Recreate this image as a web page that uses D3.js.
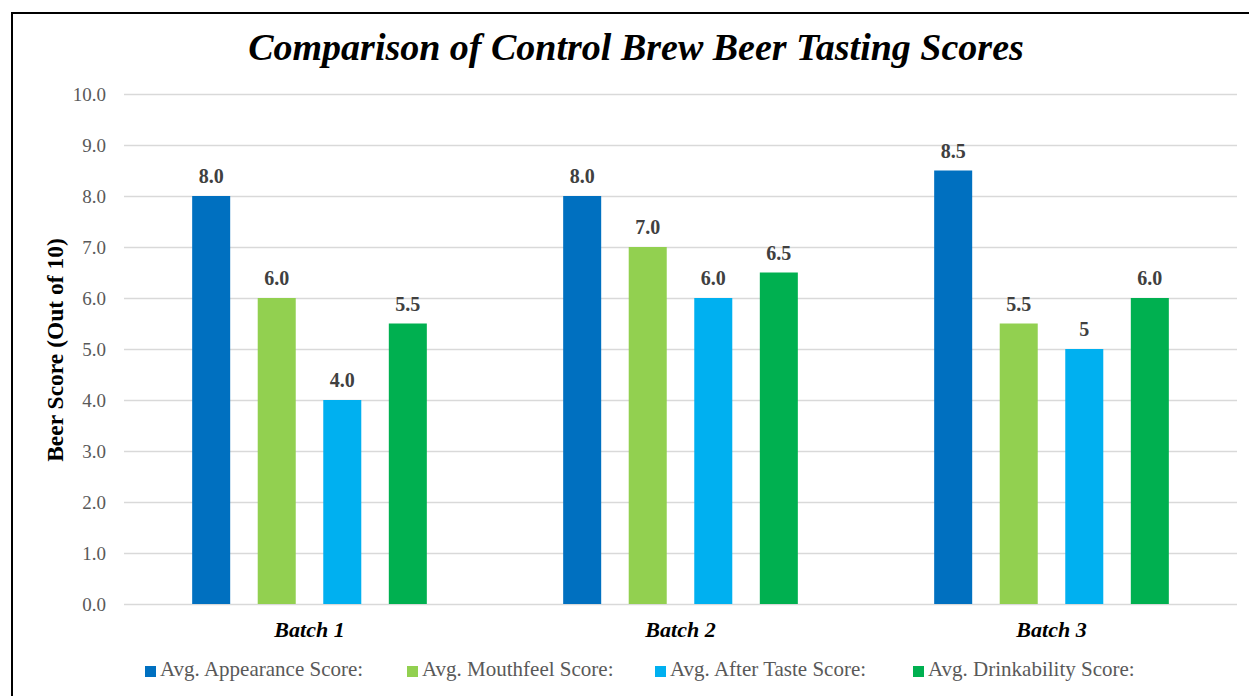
<!DOCTYPE html>
<html>
<head>
<meta charset="utf-8">
<script src="https://cdn.jsdelivr.net/npm/d3@7"></script>
<style>
  body { margin: 0; background: #fff; }
  svg { display: block; }
</style>
</head>
<body>
<div class="canvas"></div>
<script>
// chart data
const batches = ['Batch 1', 'Batch 2', 'Batch 3'];
const seriesNames = ['Avg. Appearance Score:', 'Avg. Mouthfeel Score:', 'Avg. After Taste Score:', 'Avg. Drinkability Score:'];
const appearance = [8.0, 8.0, 8.5];
const mouthfeel = [6.0, 7.0, 5.5];
const afterTaste = [4.0, 6.0, 5.0];
const drinkability = [5.5, 6.5, 6.0];
// labels as they appear on the chart (one says "5" not "5.0")
const appearanceLabels = ['8.0', '8.0', '8.5'];
const mouthfeelLabels = ['6.0', '7.0', '5.5'];
const afterTasteLabels = ['4.0', '6.0', '5'];
const drinkabilityLabels = ['5.5', '6.5', '6.0'];
const yTicks = [0, 1, 2, 3, 4, 5, 6, 7, 8, 9, 10];

const colors = d3.scaleOrdinal()
    .domain(seriesNames)
    .range(['#0070C0', '#92D050', '#00B0F0', '#00B050']);

const width = 1249, height = 696;
const margin = {top: 94, right: 12, bottom: 92, left: 124};
const serif = 'Liberation Serif, Times New Roman, serif';

const svg = d3.select('.canvas')
    .append('svg')
    .attr('width', width)
    .attr('height', height);

// outer frame
svg.append('rect')
    .attr('x', 12).attr('y', 13)
    .attr('width', width + 10).attr('height', height + 10)
    .attr('fill', 'none')
    .attr('stroke', '#000')
    .attr('stroke-width', 2);

// title
svg.append('text')
    .attr('x', 636).attr('y', 60)
    .attr('text-anchor', 'middle')
    .attr('font-family', serif)
    .attr('font-weight', 'bold')
    .attr('font-style', 'italic')
    .attr('font-size', 38)
    .attr('fill', '#000')
    .text('Comparison of Control Brew Beer Tasting Scores');

const graphWidth = width - margin.left - margin.right;
const graphHeight = height - margin.top - margin.bottom;

const graph = svg.append('g')
    .attr('transform', `translate(${margin.left}, ${margin.top})`);

// scales
const y = d3.scaleLinear()
    .domain([0, 10])
    .range([graphHeight, 0]);

const x0 = d3.scaleBand()
    .domain(batches)
    .range([0, graphWidth])
    .padding(0);

const x1 = d3.scaleBand()
    .domain(seriesNames)
    .range([0, x0.bandwidth()])
    .paddingInner(0.42)
    .paddingOuter(1.04);

// gridlines + y axis
const yAxis = d3.axisLeft(y)
    .tickValues(yTicks)
    .tickSize(-graphWidth)
    .tickPadding(18)
    .tickFormat(d3.format('.1f'));

const yAxisGroup = graph.append('g').call(yAxis);
yAxisGroup.select('.domain').remove();
yAxisGroup.selectAll('line')
    .attr('stroke', '#d9d9d9')
    .attr('stroke-width', 1.3);
yAxisGroup.selectAll('text')
    .attr('font-family', serif)
    .attr('font-size', 19)
    .attr('fill', '#595959');

// x axis labels
const xAxis = d3.axisBottom(x0).tickSize(0).tickPadding(17);
const xAxisGroup = graph.append('g')
    .attr('transform', `translate(0, ${graphHeight})`)
    .call(xAxis);
xAxisGroup.select('.domain').remove();
xAxisGroup.selectAll('text')
    .attr('font-family', serif)
    .attr('font-weight', 'bold')
    .attr('font-style', 'italic')
    .attr('font-size', 22)
    .attr('fill', '#000');

// y axis title
svg.append('text')
    .attr('transform', 'translate(63, 350) rotate(-90)')
    .attr('text-anchor', 'middle')
    .attr('font-family', serif)
    .attr('font-weight', 'bold')
    .attr('font-size', 23.5)
    .attr('fill', '#000')
    .text('Beer Score (Out of 10)');

// build rows for bars
const values = [appearance, mouthfeel, afterTaste, drinkability];
const labels = [appearanceLabels, mouthfeelLabels, afterTasteLabels, drinkabilityLabels];
const rows = [];
batches.forEach((b, i) => {
    seriesNames.forEach((s, j) => {
        rows.push({batch: b, series: s, value: values[j][i], label: labels[j][i]});
    });
});

graph.selectAll('rect.bar')
    .data(rows)
    .enter()
    .append('rect')
    .attr('class', 'bar')
    .attr('x', d => x0(d.batch) + x1(d.series))
    .attr('y', d => y(d.value))
    .attr('width', x1.bandwidth())
    .attr('height', d => graphHeight - y(d.value))
    .attr('fill', d => colors(d.series));

graph.selectAll('text.val')
    .data(rows)
    .enter()
    .append('text')
    .attr('class', 'val')
    .attr('x', d => x0(d.batch) + x1(d.series) + x1.bandwidth() / 2)
    .attr('y', d => y(d.value) - 13)
    .attr('text-anchor', 'middle')
    .attr('font-family', serif)
    .attr('font-weight', 'bold')
    .attr('font-size', 20)
    .attr('fill', '#404040')
    .text(d => d.label);

// legend
const legendX = [145, 407, 655, 913];
const legend = svg.append('g');

const items = legend.selectAll('g')
    .data(seriesNames)
    .enter()
    .append('g')
    .attr('transform', (d, i) => `translate(${legendX[i]}, 0)`);

items.append('rect')
    .attr('x', 0).attr('y', 666)
    .attr('width', 11).attr('height', 11)
    .attr('fill', d => colors(d));

items.append('text')
    .attr('x', 15).attr('y', 676)
    .attr('font-family', serif)
    .attr('font-size', 21)
    .attr('fill', '#595959')
    .text(d => d);
</script>
</body>
</html>
